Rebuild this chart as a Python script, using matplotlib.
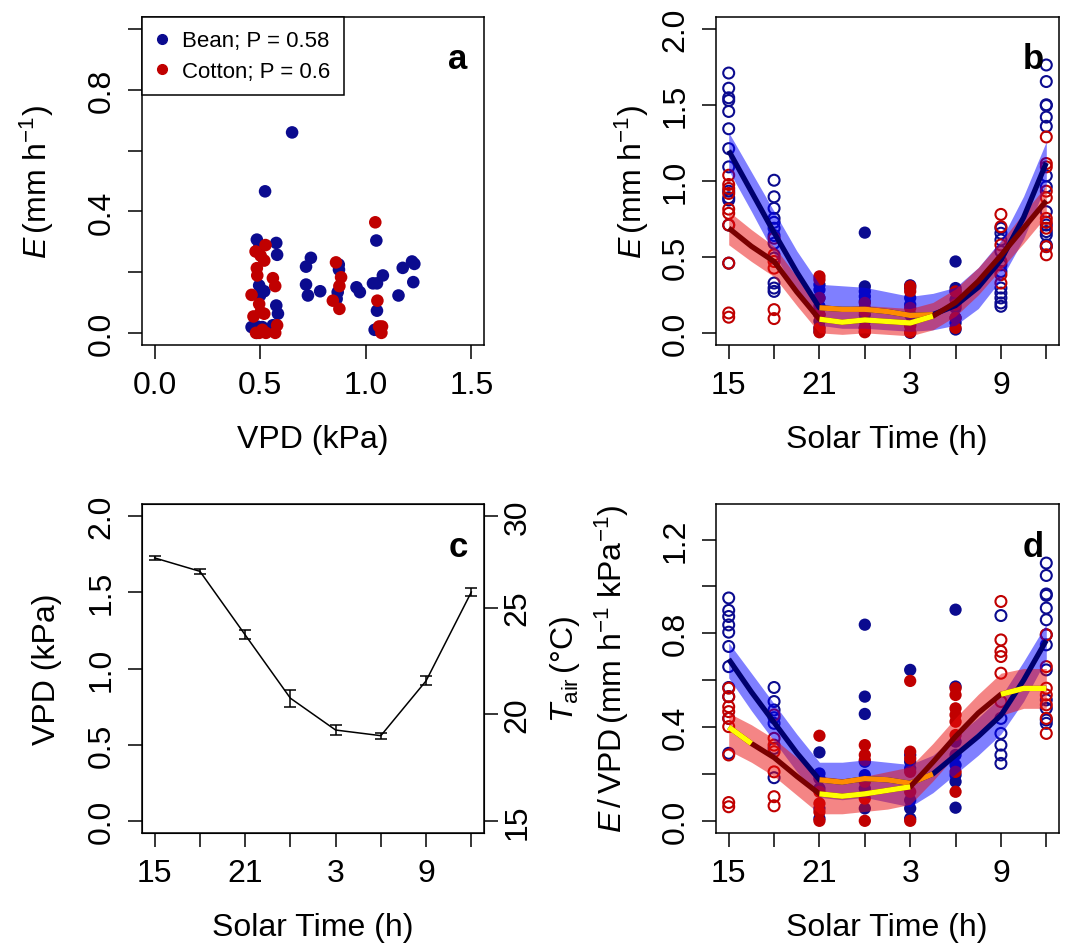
import numpy as np
import matplotlib
matplotlib.use('Agg')
import matplotlib.pyplot as plt
from matplotlib.lines import Line2D

plt.rcParams['font.family'] = ['Liberation Sans', 'DejaVu Sans']
plt.rcParams['mathtext.fontset'] = 'custom'
plt.rcParams['mathtext.rm'] = 'Liberation Sans'
plt.rcParams['mathtext.it'] = 'Liberation Sans:italic'
plt.rcParams['mathtext.bf'] = 'Liberation Sans:bold'

bean_col = '#0b0b8f'
cotton_col = '#c00000'
bean_line = '#00006e'
cotton_line = '#7a0000'
bean_band = (0.0, 0.0, 1.0, 0.5)
cotton_band = (0.92, 0.05, 0.05, 0.5)

### panel a: E vs VPD
a_bean_vpd = [0.651, 0.523, 0.484, 0.495, 0.576, 0.580, 0.740, 0.717, 0.717, 0.726,
              0.784, 0.872, 0.873, 0.867, 0.862, 0.956, 0.972, 1.050, 1.034, 1.053,
              1.081, 1.053, 1.042, 1.175, 1.219, 1.230, 1.225, 1.155, 0.495, 0.499,
              0.519, 0.576, 0.584, 0.459, 0.484, 0.510, 0.560, 0.490]
a_bean_e = [0.660, 0.466, 0.307, 0.282, 0.296, 0.257, 0.247, 0.218, 0.159, 0.123,
            0.137, 0.225, 0.208, 0.134, 0.112, 0.150, 0.134, 0.304, 0.163, 0.163,
            0.189, 0.073, 0.010, 0.214, 0.235, 0.227, 0.167, 0.123, 0.156, 0.123,
            0.137, 0.090, 0.063, 0.019, 0.000, 0.019, 0.025, 0.020]
a_cot_vpd = [0.525, 0.478, 0.502, 0.519, 0.484, 0.486, 0.560, 0.571, 0.459, 0.495,
             0.502, 0.468, 0.519, 0.495, 0.527, 0.571, 0.580, 0.859, 0.883, 0.875,
             0.844, 0.875, 1.045, 1.055, 1.063, 1.074, 1.077, 0.480, 0.510]
a_cot_e = [0.289, 0.268, 0.254, 0.238, 0.213, 0.189, 0.180, 0.154, 0.125, 0.095,
           0.068, 0.054, 0.063, 0.000, 0.000, 0.000, 0.025, 0.232, 0.183, 0.154,
           0.106, 0.079, 0.364, 0.106, 0.021, 0.000, 0.021, 0.000, 0.010]

### time axis
hours = [15, 18, 21, 24, 27, 30, 33, 36]
hour_labels = ['15', '', '21', '', '3', '', '9', '']
night = [21, 24, 27, 30]
fit_hours = [15, 16.5, 18, 19.5, 21, 22.5, 24, 25.5, 27, 28.5, 30, 31.5, 33, 34.5, 36]

### panel b: E by time
b_bean = {
    15: [1.711, 1.611, 1.548, 1.530, 1.458, 1.344, 1.213, 1.093, 0.933, 0.890, 0.875, 0.710, 0.459],
    18: [1.005, 0.896, 0.820, 0.754, 0.728, 0.689, 0.641, 0.590, 0.492, 0.328, 0.295, 0.273],
    21: [0.317, 0.284, 0.230, 0.175, 0.120, 0.010, 0.033, 0.077],
    24: [0.660, 0.306, 0.273, 0.240, 0.208, 0.164, 0.120, 0.077, 0.033, 0.010],
    27: [0.313, 0.295, 0.230, 0.186, 0.120, 0.055, 0.000],
    30: [0.470, 0.295, 0.273, 0.219, 0.164, 0.098, 0.022, 0.066],
    33: [0.689, 0.656, 0.612, 0.536, 0.448, 0.404, 0.295, 0.262, 0.230, 0.197, 0.175],
    36: [1.764, 1.655, 1.502, 1.497, 1.421, 1.360, 1.034, 0.962, 0.798, 0.710, 0.667, 0.645, 0.579, 0.568],
}
b_cotton = {
    15: [1.038, 0.977, 0.951, 0.918, 0.815, 0.787, 0.710, 0.459, 0.131, 0.103],
    18: [0.623, 0.514, 0.470, 0.426, 0.153, 0.094],
    21: [0.372, 0.350, 0.004, 0.030, 0.230, 0.120],
    24: [0.004, 0.030, 0.142, 0.197],
    27: [0.306, 0.273, 0.164, 0.004, 0.044],
    30: [0.273, 0.186, 0.098, 0.033],
    33: [0.780, 0.699, 0.579, 0.470, 0.383, 0.328],
    36: [1.290, 1.115, 1.093, 0.933, 0.890, 0.754, 0.728, 0.689, 0.514, 0.568],
}
b_bean_fit = [1.20, 0.93, 0.66, 0.40, 0.165, 0.155, 0.155, 0.14, 0.115, 0.12, 0.18, 0.30, 0.48, 0.76, 1.12]
b_bean_lo = [1.07, 0.80, 0.52, 0.27, 0.05, 0.03, 0.03, 0.02, 0.01, 0.02, 0.05, 0.16, 0.35, 0.62, 0.98]
b_bean_hi = [1.32, 1.06, 0.80, 0.54, 0.32, 0.31, 0.30, 0.27, 0.24, 0.26, 0.30, 0.43, 0.61, 0.90, 1.26]
b_cot_fit = [0.69, 0.57, 0.47, 0.27, 0.09, 0.07, 0.085, 0.075, 0.065, 0.11, 0.20, 0.34, 0.51, 0.69, 0.87]
b_cot_lo = [0.58, 0.47, 0.37, 0.18, 0.00, -0.01, 0.00, -0.01, -0.02, 0.02, 0.11, 0.25, 0.42, 0.59, 0.77]
b_cot_hi = [0.80, 0.68, 0.57, 0.37, 0.19, 0.17, 0.18, 0.17, 0.16, 0.20, 0.29, 0.43, 0.60, 0.79, 0.97]
b_bean_flat = [(21, 28.5)]
b_cot_flat = [(21, 28.5)]

### panel c: VPD by time
c_vpd = [1.726, 1.638, 1.221, 0.805, 0.596, 0.559, 0.919, 1.502]
c_err = [0.015, 0.018, 0.030, 0.055, 0.035, 0.020, 0.030, 0.027]
tair_labels = [15, 20, 25, 30]
tair_at_vpd = [0.0, 0.70, 1.40, 2.0]

### panel d: E/VPD by time
d_bean = {
    15: [0.951, 0.898, 0.872, 0.836, 0.805, 0.744, 0.658, 0.569, 0.530, 0.437, 0.288],
    18: [0.569, 0.509, 0.473, 0.440, 0.416, 0.309, 0.184],
    21: [0.292, 0.202, 0.181, 0.138, 0.010, 0.053],
    24: [0.837, 0.530, 0.456, 0.252, 0.195, 0.138, 0.053],
    27: [0.644, 0.281, 0.252, 0.224, 0.088, 0.053, 0.010],
    30: [0.901, 0.573, 0.338, 0.281, 0.238, 0.195, 0.167, 0.056],
    33: [0.876, 0.437, 0.373, 0.323, 0.281, 0.245],
    36: [1.100, 1.047, 0.968, 0.962, 0.908, 0.858, 0.794, 0.751, 0.644, 0.516, 0.480, 0.430, 0.416],
}
d_cotton = {
    15: [0.566, 0.530, 0.487, 0.466, 0.437, 0.402, 0.281, 0.078, 0.060],
    18: [0.452, 0.352, 0.323, 0.295, 0.209, 0.103, 0.064],
    21: [0.363, 0.124, 0.074, 0.038, 0.000],
    24: [0.323, 0.281, 0.259, 0.167, 0.095, 0.000],
    27: [0.597, 0.295, 0.266, 0.209, 0.124, 0.000],
    30: [0.566, 0.537, 0.480, 0.452, 0.423, 0.366, 0.209, 0.124],
    33: [0.936, 0.772, 0.723, 0.701, 0.630, 0.509],
    36: [0.794, 0.658, 0.566, 0.537, 0.495, 0.437, 0.373],
}
d_bean_fit = [0.69, 0.55, 0.42, 0.29, 0.175, 0.165, 0.18, 0.175, 0.16, 0.20, 0.28, 0.36, 0.45, 0.60, 0.77]
d_bean_lo = [0.61, 0.47, 0.34, 0.21, 0.10, 0.09, 0.10, 0.08, 0.06, 0.12, 0.20, 0.28, 0.37, 0.51, 0.69]
d_bean_hi = [0.76, 0.63, 0.50, 0.37, 0.25, 0.25, 0.26, 0.25, 0.24, 0.28, 0.36, 0.44, 0.53, 0.68, 0.84]
d_cot_fit = [0.40, 0.33, 0.27, 0.19, 0.115, 0.105, 0.115, 0.13, 0.145, 0.25, 0.36, 0.46, 0.54, 0.565, 0.565]
d_cot_lo = [0.30, 0.25, 0.19, 0.11, 0.03, 0.03, 0.04, 0.05, 0.07, 0.17, 0.28, 0.38, 0.45, 0.48, 0.48]
d_cot_hi = [0.46, 0.41, 0.35, 0.27, 0.19, 0.18, 0.19, 0.21, 0.23, 0.33, 0.44, 0.54, 0.63, 0.65, 0.65]
d_bean_flat = [(21, 28.5)]
d_cot_flat = [(15, 16.5), (21, 27), (33, 36)]

W, H = 1067, 945
fig = plt.figure(figsize=(W / 100, H / 100), dpi=100)


def px_axes(left, top, right, bottom):
    return fig.add_axes([left / W, 1 - bottom / H, (right - left) / W, (bottom - top) / H])


def style(ax):
    ax.tick_params(direction='out', length=10, width=1.1, labelsize=23)
    ax.tick_params(axis='x', pad=8)
    ax.tick_params(axis='y', pad=8.3, labelrotation=90)
    for s in ax.spines.values():
        s.set_linewidth(1.1)


def time_axis(ax):
    ax.set_xlim(14.16, 36.84)
    ax.set_xticks(hours)
    ax.set_xticklabels(hour_labels)


def points(ax, data, col):
    for h, vals in data.items():
        xs = [h] * len(vals)
        if h in night:
            ax.scatter(xs, vals, s=78, color=col, edgecolors='none', zorder=2)
        else:
            ax.scatter(xs, vals, s=62, facecolors='none', edgecolors=col, linewidths=1.5, zorder=2)


def band(ax, lo, hi, col, z):
    ax.fill_between(fit_hours, lo, hi, color=col, linewidth=0, zorder=z)


def fit(ax, fitv, line, flat, flatcol, z):
    x = np.array(fit_hours)
    y = np.array(fitv)
    ax.plot(x, y, color=line, lw=3.8, solid_capstyle='butt', zorder=z)
    for a0, a1 in flat:
        m = (x >= a0) & (x <= a1)
        ax.plot(x[m], y[m], color=flatcol, lw=3.8, solid_capstyle='butt', zorder=z + 0.1)


def letter(ax, s):
    ax.text(0.924, 0.872, s, transform=ax.transAxes, fontsize=25, fontweight='bold',
            ha='center', va='center', zorder=10)


def center_yticks(ax):
    for lab in ax.get_yticklabels():
        lab.set_va('center')


# ---- a
ax_a = px_axes(142, 18, 484, 346)
ax_a.scatter(a_bean_vpd, a_bean_e, s=82, color=bean_col, edgecolors='none', zorder=2)
ax_a.scatter(a_cot_vpd, a_cot_e, s=82, color=cotton_col, edgecolors='none', zorder=2)
ax_a.set_xlim(-0.06, 1.56)
ax_a.set_ylim(-0.04, 1.04)
ax_a.set_xticks([0, 0.5, 1.0, 1.5])
ax_a.set_xticklabels(['0.0', '0.5', '1.0', '1.5'])
ax_a.set_yticks([0, 0.2, 0.4, 0.6, 0.8, 1.0])
ax_a.set_yticklabels(['0.0', '', '0.4', '', '0.8', ''])
style(ax_a)
center_yticks(ax_a)
handles = [Line2D([], [], marker='o', ls='none', color=bean_col, markersize=7),
           Line2D([], [], marker='o', ls='none', color=cotton_col, markersize=7)]
leg = ax_a.legend(handles, ['Bean; P = 0.58', 'Cotton; P = 0.6'], loc='upper left',
                  bbox_to_anchor=(0, 1), borderaxespad=0, fancybox=False, edgecolor='black',
                  framealpha=1, fontsize=16, handlelength=0.6, handletextpad=0.6,
                  borderpad=0.6, labelspacing=0.42)
leg.get_frame().set_linewidth(1.1)
letter(ax_a, 'a')

# ---- b
ax_b = px_axes(716, 18, 1059, 346)
points(ax_b, b_bean, bean_col)
points(ax_b, b_cotton, cotton_col)
band(ax_b, b_bean_lo, b_bean_hi, bean_band, 3)
band(ax_b, b_cot_lo, b_cot_hi, cotton_band, 3.2)
fit(ax_b, b_bean_fit, bean_line, b_bean_flat, '#ff8c00', 4)
fit(ax_b, b_cot_fit, cotton_line, b_cot_flat, '#ffff00', 4.5)
time_axis(ax_b)
ax_b.set_ylim(-0.08, 2.08)
ax_b.set_yticks([0, 0.5, 1.0, 1.5, 2.0])
ax_b.set_yticklabels(['0.0', '0.5', '1.0', '1.5', '2.0'])
style(ax_b)
center_yticks(ax_b)
letter(ax_b, 'b')

# ---- c
ax_c = px_axes(142, 505, 484, 834)
ax_c.errorbar(hours, c_vpd, yerr=c_err, color='black', lw=1.1, capsize=4.5, capthick=1.1)
time_axis(ax_c)
ax_c.set_ylim(-0.08, 2.08)
ax_c.set_yticks([0, 0.5, 1.0, 1.5, 2.0])
ax_c.set_yticklabels(['0.0', '0.5', '1.0', '1.5', '2.0'])
style(ax_c)
center_yticks(ax_c)
ax_c2 = ax_c.twinx()
ax_c2.set_ylim(ax_c.get_ylim())
ax_c2.set_yticks(tair_at_vpd)
ax_c2.set_yticklabels([str(t) for t in tair_labels])
ax_c2.tick_params(direction='out', length=10, width=1.1, labelsize=23, pad=3.5, labelrotation=90)
center_yticks(ax_c2)
letter(ax_c, 'c')

# ---- d
ax_d = px_axes(716, 505, 1059, 834)
points(ax_d, d_bean, bean_col)
points(ax_d, d_cotton, cotton_col)
band(ax_d, d_bean_lo, d_bean_hi, bean_band, 3)
band(ax_d, d_cot_lo, d_cot_hi, cotton_band, 3.2)
fit(ax_d, d_bean_fit, bean_line, d_bean_flat, '#ff8c00', 4)
fit(ax_d, d_cot_fit, cotton_line, d_cot_flat, '#ffff00', 4.5)
time_axis(ax_d)
ax_d.set_ylim(-0.052, 1.352)
ax_d.set_yticks([0, 0.2, 0.4, 0.6, 0.8, 1.0, 1.2])
ax_d.set_yticklabels(['0.0', '', '0.4', '', '0.8', '', '1.2'])
style(ax_d)
center_yticks(ax_d)
letter(ax_d, 'd')


# ---- axis labels
def ftext(x, y, s, rot=0):
    fig.text(x / W, 1 - y / H, s, rotation=rot, ha='center', va='center', fontsize=23)


ftext(37, 182, r'$E\,(\mathrm{mm\ h^{-1}})$', 90)
ftext(313, 440, 'VPD (kPa)')
ftext(632, 182, r'$E\,(\mathrm{mm\ h^{-1}})$', 90)
ftext(887, 440, 'Solar Time (h)')
ftext(47, 669, 'VPD (kPa)', 90)
ftext(565, 669, r'$T_{\mathrm{air}}\,(\mathrm{°C})$', 90)
ftext(612, 669, r'$E\,/\,\mathrm{VPD}\,(\mathrm{mm\ h^{-1}\ kPa^{-1}})$', 90)
ftext(313, 928, 'Solar Time (h)')
ftext(887, 928, 'Solar Time (h)')

fig.savefig('out.png', dpi=100)
